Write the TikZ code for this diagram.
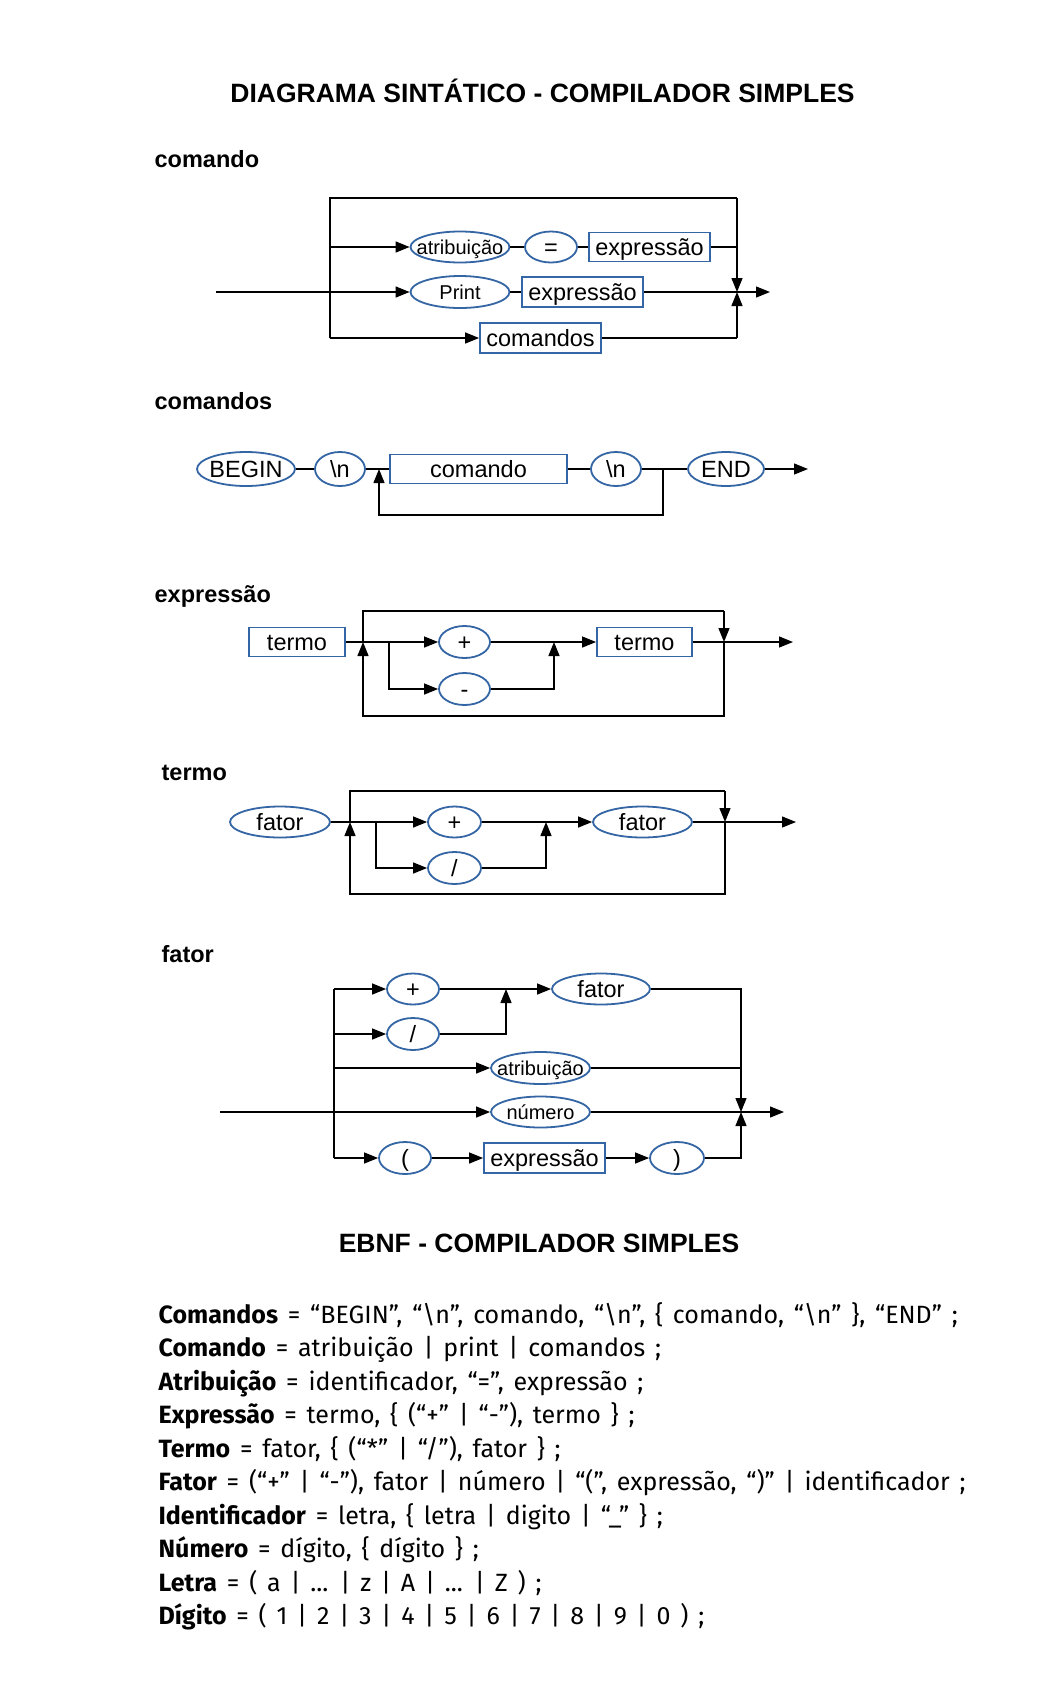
\documentclass[tikz,border=0pt]{standalone}
\usepackage{fontspec}
\setmainfont{Liberation Sans}
\newfontfamily\ebnffont[WordSpace=1.48]{Fira Sans}
\usetikzlibrary{shapes.geometric,arrows.meta}
\definecolor{nodeblue}{RGB}{52,101,164}
\newcommand\ct[1]{\makebox[0pt]{\smash{\raisebox{-0.35em}{#1}}}}
\begin{document}
\begin{tikzpicture}[x=1pt,y=-1pt,line width=1.3pt,
  arr/.style={-{Triangle[length=14pt,width=11pt]}},
  oval/.style={ellipse,draw=nodeblue,line width=1.8pt,inner sep=0pt,font=\fontsize{23.5}{28}\selectfont},
  small/.style={font=\fontsize{20}{24}\selectfont},
  boxn/.style={rectangle,draw=nodeblue,line width=1.8pt,inner sep=0pt,font=\fontsize{23.5}{28}\selectfont},
  ttl/.style={font=\bfseries\fontsize{26.5}{32}\selectfont,anchor=base,inner sep=0pt},
  lbl/.style={font=\bfseries\fontsize{23.5}{28}\selectfont,anchor=base west,inner sep=0pt},
  ebnf/.style={font=\ebnffont\fontsize{25}{30}\selectfont,anchor=base west,inner sep=0pt}]
\fill[white] (0,0) rectangle (1058,1701);
\useasboundingbox (0,0) rectangle (1058,1701);

% titles and labels
\node[ttl] (t1) at (542.5,102) {DIAGRAMA SINTÁTICO - COMPILADOR SIMPLES};
\node[lbl] (l1) at (154,167.7) {comando};
\node[lbl] (l2) at (154,409) {comandos};
\node[lbl] (l3) at (154,602) {expressão};
\node[lbl] (l4) at (161,780) {termo};
\node[lbl] (l5) at (161,962) {fator};

% ---------- comando
\node[oval,small,minimum width=99pt,minimum height=31pt] (ca) at (460,247) {\ct{atribuição}};
\node[oval,minimum width=52pt,minimum height=31pt] (ceq) at (551,247) {\ct{=}};
\node[boxn,minimum width=121pt,minimum height=29pt] (cex1) at (649.5,247) {\ct{expressão}};
\node[oval,small,minimum width=99pt,minimum height=32pt] (cpr) at (460,292) {\ct{Print}};
\node[boxn,minimum width=121pt,minimum height=30pt] (cex2) at (582.5,292) {\ct{expressão}};
\node[boxn,minimum width=121pt,minimum height=30pt] (ccs) at (540.5,338) {\ct{comandos}};
\coordinate (cin) at (216,292);
\coordinate (cout) at (770,292);
\coordinate (cL1) at (330,198);
\coordinate (cR1) at (737,198);
\coordinate (cJ) at (737,292);
\coordinate (cL3) at (330,338);
\coordinate (cR3) at (737,338);
\draw (cL3) -- (cL1) -- (cR1);
\draw[arr] (cR1) -- (cJ);
\draw[arr] (cL1 |- ca) -- (ca);
\draw (ca) -- (ceq);
\draw (ceq) -- (cex1);
\draw (cex1) -- (cR1 |- cex1);
\draw[arr] (cin) -- (cpr);
\draw (cpr) -- (cex2);
\draw[arr] (cex2) -- (cout);
\draw[arr] (cL3) -- (ccs);
\draw (ccs) -- (cR3);
\draw[arr] (cR3) -- (cJ);

% ---------- comandos
\node[oval,minimum width=98pt,minimum height=34pt] (sb) at (246,469) {\ct{BEGIN}};
\node[oval,minimum width=50pt,minimum height=34pt] (sn1) at (340,469) {\ct{\textbackslash n}};
\node[boxn,minimum width=177pt,minimum height=29pt] (sc) at (478.5,469) {\ct{comando}};
\node[oval,minimum width=50pt,minimum height=34pt] (sn2) at (616,469) {\ct{\textbackslash n}};
\node[oval,minimum width=76pt,minimum height=34pt] (se) at (726,469) {\ct{END}};
\coordinate (sout) at (808,469);
\coordinate (sj1) at (379,469);
\coordinate (sj2) at (663,469);
\coordinate (sb1) at (379,515);
\coordinate (sb2) at (663,515);
\draw (sb) -- (sn1);
\draw (sn1) -- (sc);
\draw (sc) -- (sn2);
\draw (sn2) -- (se);
\draw[arr] (se) -- (sout);
\draw[arr] (sj2) -- (sb2) -- (sb1) -- (sj1);

% ---------- expressao
\node[boxn,minimum width=96pt,minimum height=29pt] (et1) at (297,642) {\ct{termo}};
\node[oval,minimum width=51pt,minimum height=32pt] (ep) at (464.5,642) {\ct{+}};
\node[oval,minimum width=51pt,minimum height=32pt] (em) at (464.5,689) {\ct{-}};
\node[boxn,minimum width=95pt,minimum height=29pt] (et2) at (644.5,642) {\ct{termo}};
\coordinate (eL) at (363,642);
\coordinate (eB) at (389,642);
\coordinate (eJ) at (554,642);
\coordinate (eR) at (724,642);
\coordinate (eout) at (793,642);
\coordinate (eTL) at (363,611);
\coordinate (eTR) at (724,611);
\coordinate (eBL) at (363,716);
\coordinate (eBR) at (724,716);
\draw (et1) -- (eB);
\draw[arr] (eB) -- (ep);
\draw[arr] (ep) -- (et2);
\draw[arr] (et2) -- (eout);
\draw[arr] (eB) -- (eB |- em) -- (em);
\draw[arr] (em) -- (eJ |- em) -- (eJ);
\draw (eL) -- (eTL) -- (eTR);
\draw[arr] (eTR) -- (eR);
\draw[arr] (eR) -- (eBR) -- (eBL) -- (eL);

% ---------- termo
\node[oval,minimum width=100pt,minimum height=31pt] (tf1) at (280,822) {\ct{fator}};
\node[oval,minimum width=53pt,minimum height=31pt] (tp) at (454.5,822) {\ct{+}};
\node[oval,minimum width=53pt,minimum height=32pt] (ts) at (454.5,868) {\ct{/}};
\node[oval,minimum width=99pt,minimum height=31pt] (tf2) at (642.5,822) {\ct{fator}};
\coordinate (tL) at (350,822);
\coordinate (tB) at (376,822);
\coordinate (tJ) at (546,822);
\coordinate (tR) at (725,822);
\coordinate (tout) at (796,822);
\coordinate (tTL) at (350,791);
\coordinate (tTR) at (725,791);
\coordinate (tBL) at (350,894);
\coordinate (tBR) at (725,894);
\draw (tf1) -- (tB);
\draw[arr] (tB) -- (tp);
\draw[arr] (tp) -- (tf2);
\draw[arr] (tf2) -- (tout);
\draw[arr] (tB) -- (tB |- ts) -- (ts);
\draw[arr] (ts) -- (tJ |- ts) -- (tJ);
\draw (tL) -- (tTL) -- (tTR);
\draw[arr] (tTR) -- (tR);
\draw[arr] (tR) -- (tBR) -- (tBL) -- (tL);

% ---------- fator
\node[oval,minimum width=52pt,minimum height=31pt] (fp) at (413,989) {\ct{+}};
\node[oval,minimum width=52pt,minimum height=32pt] (fs) at (413,1034) {\ct{/}};
\node[oval,minimum width=98pt,minimum height=31pt] (ff) at (601,989) {\ct{fator}};
\node[oval,small,minimum width=99pt,minimum height=32pt] (fa) at (540.5,1068) {\ct{atribuição}};
\node[oval,small,minimum width=99pt,minimum height=31pt] (fn) at (540.5,1112) {\ct{número}};
\node[oval,minimum width=52pt,minimum height=32pt] (flp) at (405,1158) {\ct{(}};
\node[boxn,minimum width=121pt,minimum height=30pt] (fex) at (544.5,1158) {\ct{expressão}};
\node[oval,minimum width=54pt,minimum height=32pt] (frp) at (677,1158) {\ct{)}};
\coordinate (fT) at (334,989);
\coordinate (fBot) at (334,1158);
\coordinate (fJ) at (506,989);
\coordinate (fR1) at (741,989);
\coordinate (fRj) at (741,1112);
\coordinate (fR5) at (741,1158);
\coordinate (fin) at (220,1112);
\coordinate (fout) at (784,1112);
\draw (fT) -- (fBot);
\draw[arr] (fT) -- (fp);
\draw[arr] (fs -| fT) -- (fs);
\draw[arr] (fa -| fT) -- (fa);
\draw[arr] (fBot) -- (flp);
\draw[arr] (fp) -- (ff);
\draw[arr] (fs) -- (fJ |- fs) -- (fJ);
\draw[arr] (ff) -- (fR1) -- (fRj);
\draw (fa) -- (fa -| fR1);
\draw[arr] (fin) -- (fn);
\draw[arr] (fn) -- (fout);
\draw[arr] (flp) -- (fex);
\draw[arr] (fex) -- (frp);
\draw[arr] (frp) -- (fR5) -- (fRj);

% ---------- EBNF
\node[ttl] (t2) at (539,1252.7) {EBNF - COMPILADOR SIMPLES};
\node[ebnf] (e1) at (158,1323) {\textbf{Comandos} = “BEGIN”, “\textbackslash n”, comando, “\textbackslash n”, \{ comando, “\textbackslash n” \}, “END” ;};
\node[ebnf] (e2) at (158,1356.5) {\textbf{Comando} = atribuição | print | comandos ;};
\node[ebnf] (e3) at (158,1390) {\textbf{Atribuição} = identificador, “=”, expressão ;};
\node[ebnf] (e4) at (158,1423.5) {\textbf{Expressão} = termo, \{ (“+” | “-”), termo \} ;};
\node[ebnf] (e5) at (158,1457) {\textbf{Termo} = fator, \{ (“*” | “/”), fator \} ;};
\node[ebnf] (e6) at (158,1490.5) {\textbf{Fator} = (“+” | “-”), fator | número | “(”, expressão, “)” | identificador ;};
\node[ebnf] (e7) at (158,1524) {\textbf{Identificador} = letra, \{ letra | digito | “\_” \} ;};
\node[ebnf] (e8) at (158,1557.5) {\textbf{Número} = dígito, \{ dígito \} ;};
\node[ebnf] (e9) at (158,1591) {\textbf{Letra} = ( a | ... | z | A | ... | Z ) ;};
\node[ebnf] (e10) at (158,1624.5) {\textbf{Dígito} = ( 1 | 2 | 3 | 4 | 5 | 6 | 7 | 8 | 9 | 0 ) ;};
\end{tikzpicture}
\end{document}
